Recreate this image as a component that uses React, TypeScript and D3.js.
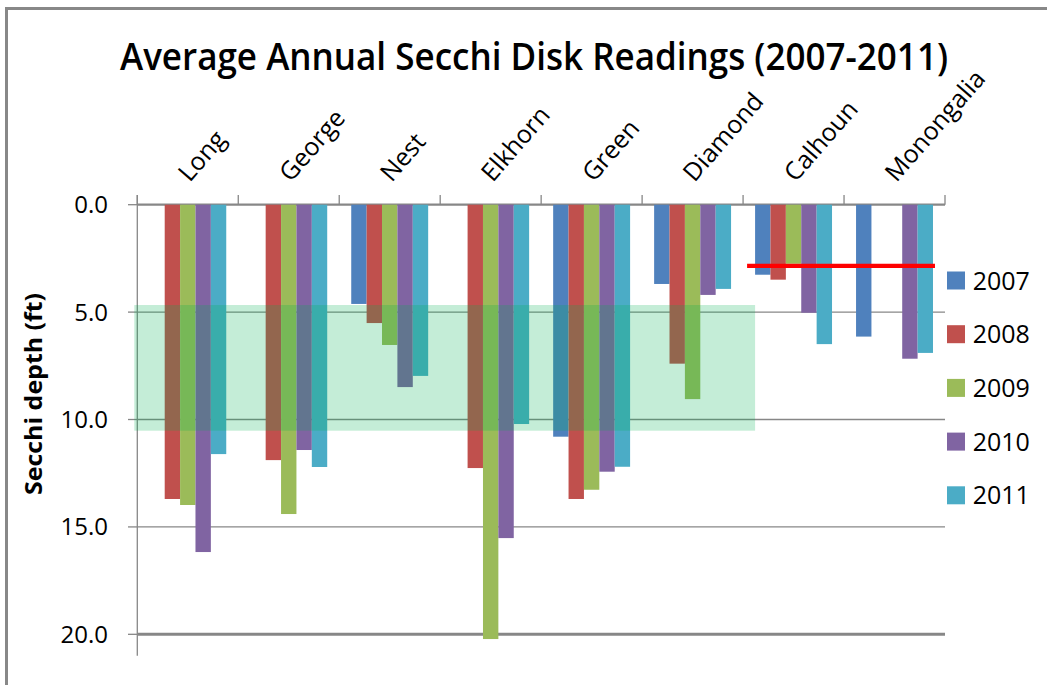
import React from 'react';
import * as d3 from 'd3';

const lakes = ['Long', 'George', 'Nest', 'Elkhorn', 'Green', 'Diamond', 'Calhoun', 'Monongalia'];
const years = ['2007', '2008', '2009', '2010', '2011'];
const colors = ['#4f81bd', '#c0504d', '#9bbb59', '#8064a2', '#4bacc6'];

// average secchi depth (ft), null = no reading that year
const d2007 = [null, null, 4.62, null, 10.8, 3.69, 3.26, 6.14];
const d2008 = [13.7, 11.89, 5.51, 12.26, 13.7, 7.4, 3.49, null];
const d2009 = [13.98, 14.4, 6.53, 20.22, 13.27, 9.05, 2.75, null];
const d2010 = [16.17, 11.42, 8.49, 15.52, 12.43, 4.2, 5.03, 7.17];
const d2011 = [11.61, 12.21, 7.97, 10.21, 12.2, 3.92, 6.49, 6.9];
const series = [d2007, d2008, d2009, d2010, d2011];

const yTicks = [0, 5, 10, 15, 20];
const targetBand = [4.67, 10.52]; // shaded range
const bandLakes = ['Long', 'Diamond'];
const refLine = 2.85; // red reference line
const refLakes = ['Calhoun', 'Monongalia'];

const W = 1047;
const H = 685;
const left = 137.3;
const right = 945;
const top = 204.7;
const bottom = 655.8;

const App: React.FC = () => {
  const x0 = d3.scaleBand<string>()
    .domain(lakes)
    .range([left, right])
    .paddingInner(0.238)
    .paddingOuter(0.119);
  const x1 = d3.scaleBand<string>()
    .domain(years)
    .range([0, x0.bandwidth()]);
  const y = d3.scaleLinear().domain([0, 21]).range([top, bottom]);
  const step = x0.step();
  const font = "'Open Sans', sans-serif";

  return (
    <svg width={W} height={H} style={{ position: 'absolute', left: 0, top: 0 }} fontFamily={font}>
      <rect x={0} y={0} width={W} height={H} fill="#fff" />
      <rect x={6.5} y={8.5} width={W + 20} height={H + 20} fill="none" stroke="#888" strokeWidth={3} />

      <text x={534} y={70} fontSize={38} fontWeight={600} textAnchor="middle" textLength={828}
        lengthAdjust="spacingAndGlyphs" fill="#000">
        Average Annual Secchi Disk Readings (2007-2011)
      </text>

      {/* gridlines */}
      {yTicks.map(t => (
        <line key={t} x1={left} x2={right} y1={y(t)} y2={y(t)}
          stroke="#878787" strokeWidth={t === 0 ? 2.2 : t === 20 ? 3 : 1.3} />
      ))}
      {/* left axis + ticks */}
      <line x1={left} x2={left} y1={195} y2={bottom} stroke="#878787" strokeWidth={1.3} />
      {yTicks.map(t => (
        <line key={'t' + t} x1={128} x2={left} y1={y(t)} y2={y(t)} stroke="#878787" strokeWidth={1.3} />
      ))}
      {yTicks.map(t => (
        <text key={'l' + t} x={108} y={y(t) + 8.5} fontSize={24} textAnchor="end" fill="#000">
          {t.toFixed(1)}
        </text>
      ))}
      {/* category ticks on top axis */}
      {d3.range(lakes.length + 1).map(i => (
        <line key={'c' + i} x1={left + i * step} x2={left + i * step} y1={195} y2={top}
          stroke="#878787" strokeWidth={1.3} />
      ))}
      {lakes.map(l => {
        const cx = (x0(l) ?? 0) + x0.bandwidth() / 2;
        return (
          <text key={l} transform={`translate(${cx + 2},${183}) rotate(-49)`} fontSize={25} fill="#000">
            {l}
          </text>
        );
      })}

      {/* bars */}
      {series.map((vals, si) => (
        <g key={years[si]} fill={colors[si]}>
          {vals.map((v, li) => v == null ? null : (
            <rect key={li} x={(x0(lakes[li]) ?? 0) + (x1(years[si]) ?? 0)} y={y(0)}
              width={x1.bandwidth()} height={y(v) - y(0)} />
          ))}
        </g>
      ))}

      {/* target range band */}
      <rect x={left - 3} y={y(targetBand[0])}
        width={(x0(bandLakes[1]) ?? 0) + step - (left - 3)}
        height={y(targetBand[1]) - y(targetBand[0])}
        fill="#00b050" opacity={0.23} />

      {/* reference line */}
      <line x1={(x0(refLakes[0]) ?? 0) - 8} x2={(x0(refLakes[1]) ?? 0) + x0.bandwidth() + 2}
        y1={y(refLine)} y2={y(refLine)} stroke="#ff0000" strokeWidth={4.3} />

      <text transform={`translate(32,394) rotate(-90)`} fontSize={24} fontWeight="bold"
        textAnchor="middle" dominantBaseline="central" textLength={202}
        lengthAdjust="spacingAndGlyphs" fill="#000">
        Secchi depth (ft)
      </text>

      {/* legend */}
      {years.map((yr, i) => (
        <g key={yr} transform={`translate(947,${289.5 + i * 53.7})`}>
          <rect x={0} y={-18} width={18} height={18} fill={colors[i]} />
          <text x={25.7} y={0} fontSize={25} fill="#000">{yr}</text>
        </g>
      ))}
    </svg>
  );
};

export default App;
